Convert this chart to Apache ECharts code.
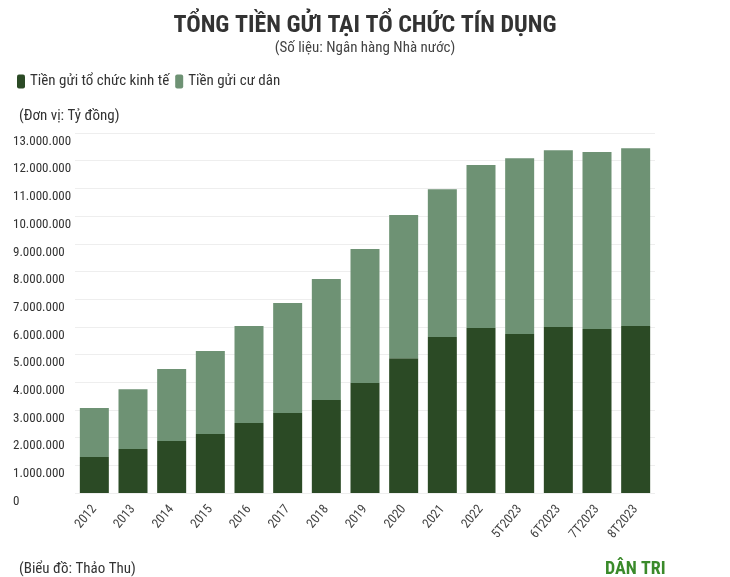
<!DOCTYPE html><html><head><meta charset="utf-8">
<script src="https://cdn.jsdelivr.net/npm/echarts@6/dist/echarts.min.js"></script>
<style>body{margin:0;background:#fff}#c{width:730px;height:577px}</style></head><body><div id="c"></div>
<script>
const categories=['2012','2013','2014','2015','2016','2017','2018','2019','2020','2021','2022','5T2023','6T2023','7T2023','8T2023'];
const economic=[1300000,1590000,1880000,2130000,2530000,2890000,3360000,3970000,4870000,5630000,5960000,5740000,5990000,5920000,6030000];
const residents=[1770000,2160000,2600000,3000000,3500000,3970000,4370000,4840000,5170000,5340000,5880000,6350000,6390000,6390000,6420000];
const yTicks=[0,1000000,2000000,3000000,4000000,5000000,6000000,7000000,8000000,9000000,10000000,11000000,12000000,13000000];
const F="'Liberation Sans Narrow','Roboto Condensed','Open Sans',sans-serif";
const fmt=v=>v===0?'0':String(v).replace(/\B(?=(\d{3})+(?!\d))/g,'.');
const ch=echarts.init(document.getElementById('c'));
ch.setOption({
 animation:false,
 title:[{text:'TỔNG TIỀN GỬI TẠI TỔ CHỨC TÍN DỤNG',left:'center',top:9,textStyle:{fontFamily:F,fontSize:24,fontWeight:'bold',color:'#333'}},
  {text:'(Số liệu: Ngân hàng Nhà nước)',left:'center',top:36,textStyle:{fontFamily:F,fontSize:15,fontWeight:'normal',color:'#444'}},
  {text:'(Đơn vị: Tỷ đồng)',left:14,top:104,textStyle:{fontFamily:F,fontSize:15,fontWeight:'normal',color:'#333'}},
  {text:'(Biểu đồ: Thảo Thu)',left:14,top:557,textStyle:{fontFamily:F,fontSize:15,fontWeight:'normal',color:'#333'}},
  {text:'DÂN TRI',left:600,top:555,textStyle:{fontFamily:F,fontSize:18,fontWeight:'bold',color:'#3a8a2a'}}],
 legend:{left:12,top:69,itemWidth:8,itemHeight:14,itemGap:6,icon:'roundRect',textStyle:{fontFamily:F,fontSize:15,color:'#333'},data:['Tiền gửi tổ chức kinh tế','Tiền gửi cư dân']},
 grid:{left:75,right:75,top:133,bottom:84},
 xAxis:{type:'category',data:categories,axisLine:{show:false},axisTick:{show:false},
  axisLabel:{fontFamily:F,fontSize:13,color:'#444',rotate:50,margin:14,interval:0}},
 yAxis:{type:'value',min:0,max:13000000,interval:1000000,
  axisLabel:{fontFamily:F,fontSize:13,color:'#333',formatter:fmt,align:'left',margin:62,verticalAlign:'top',padding:[2,0,0,0]},
  splitLine:{lineStyle:{color:'#eee'}},axisLine:{show:false},axisTick:{show:false}},
 series:[{name:'Tiền gửi tổ chức kinh tế',type:'bar',stack:'t',data:economic,barWidth:'75%',itemStyle:{color:'#2b4a25'}},
  {name:'Tiền gửi cư dân',type:'bar',stack:'t',data:residents,itemStyle:{color:'#6e9274'}}]
});
</script></body></html>
